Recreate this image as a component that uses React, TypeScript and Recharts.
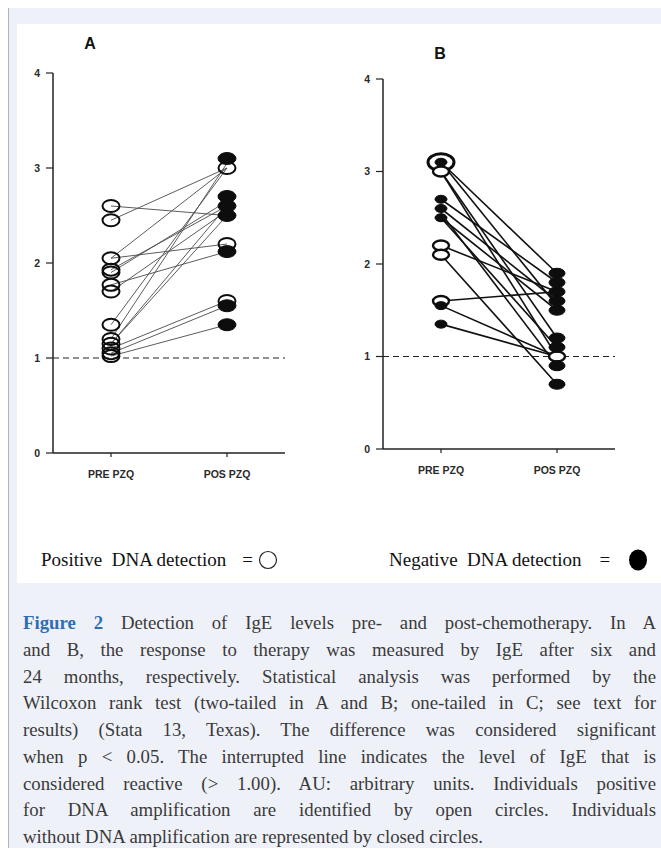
import React from 'react';
import { ScatterChart, Scatter, XAxis, YAxis, ReferenceLine } from 'recharts';

// ---------- shared ----------
const categories = ['PRE PZQ', 'POS PZQ'];
const yTicks = [0, 1, 2, 3, 4];
const reactiveCutoff = 1;

// ---------- Panel A (six months) ----------
const aLinePre = [2.6, 2.45, 2.05, 2.05, 1.93, 1.9, 1.77, 1.7, 1.35, 1.2, 1.15, 1.15, 1.1, 1.05, 1.02];
const aLinePost = [2.5, 3.0, 2.2, 3.0, 2.6, 2.65, 2.12, 2.55, 3.0, 3.05, 2.6, 2.5, 1.6, 1.55, 1.35];
const aPreOpen = [2.6, 2.45, 2.05, 1.93, 1.9, 1.77, 1.7, 1.35, 1.2, 1.15, 1.1, 1.05, 1.02];
const aPreFilled: number[] = [];
const aPostOpen = [3.0, 2.2, 1.6];
const aPostFilled = [3.1, 2.7, 2.6, 2.5, 2.12, 1.55, 1.35];

// ---------- Panel B (24 months) ----------
const bLinePre = [3.1, 3.1, 3.0, 3.0, 2.7, 2.6, 2.5, 2.5, 2.55, 2.2, 2.1, 1.6, 1.55, 1.35];
const bLinePost = [1.9, 1.55, 1.2, 1.0, 1.8, 1.6, 1.5, 1.1, 0.9, 1.7, 0.7, 1.7, 1.0, 1.0];
const bPreRing = [3.1];
const bPreOpen = [3.0, 2.2, 2.1, 1.6];
const bPreFilled = [3.1, 2.7, 2.6, 2.5, 1.55, 1.35];
const bPostOpen = [1.0];
const bPostFilled = [1.9, 1.8, 1.7, 1.6, 1.5, 1.2, 1.1, 0.9, 0.7];

// ---------- text ----------
const legendPositive = 'Positive\u00a0 DNA detection';
const legendNegative = 'Negative\u00a0 DNA detection';
const captionLead = 'Figure 2';
const captionLines = [
  ' Detection of IgE levels pre- and post-chemotherapy. In A',
  'and B, the response to therapy was measured by IgE after six and',
  '24 months, respectively. Statistical analysis was performed by the',
  'Wilcoxon rank test (two-tailed in A and B; one-tailed in C; see text for',
  'results) (Stata 13, Texas). The difference was considered significant',
  'when p < 0.05. The interrupted line indicates the level of IgE that is',
  'considered reactive (> 1.00). AU: arbitrary units. Individuals positive',
  'for DNA amplification are identified by open circles. Individuals',
  'without DNA amplification are represented by closed circles.',
];

const pts = (values: number[], x: number) => values.map((y) => ({ x, y }));

const ellipseShape = (rx: number, ry: number, filled: boolean, sw: number, openFill: string) => (props: any) => {
  const { cx, cy } = props;
  if (cx == null || cy == null) return <g />;
  return (
    <ellipse
      cx={cx}
      cy={cy}
      rx={rx}
      ry={ry}
      fill={filled ? '#0d0d0d' : openFill}
      stroke="#0d0d0d"
      strokeWidth={sw}
    />
  );
};

const emptyShape = () => <g />;

type MarkerSpec = { data: { x: number; y: number }[]; shape: (p: any) => React.ReactElement };

function Panel(props: {
  linePre: number[];
  linePost: number[];
  markers: MarkerSpec[];
  lineColor: string;
  lineWidth: number;
  width: number;
  height: number;
}) {
  const { linePre, linePost, markers, lineColor, lineWidth, width, height } = props;
  const tickStyle = { fontSize: 10.5, fontWeight: 700, fill: '#2a2a2a', fontFamily: '"Liberation Sans", Arial, sans-serif' };
  return (
    <ScatterChart width={width} height={height} margin={{ top: 10, right: 10, bottom: 10, left: 10 }}>
      <XAxis
        type="number"
        dataKey="x"
        domain={[-0.5, 1.5]}
        ticks={[0, 1]}
        tickFormatter={(v: number) => categories[v] ?? ''}
        tick={tickStyle}
        axisLine={{ stroke: '#222', strokeWidth: 1.5 }}
        tickLine={{ stroke: '#222', strokeWidth: 1.2 }}
        tickSize={4}
        tickMargin={14}
        height={30}
        allowDataOverflow
      />
      <YAxis
        type="number"
        dataKey="y"
        domain={[0, 4]}
        ticks={yTicks}
        tick={tickStyle}
        axisLine={{ stroke: '#222', strokeWidth: 1.5 }}
        tickLine={{ stroke: '#222', strokeWidth: 1.2 }}
        tickSize={7}
        tickMargin={6}
        width={30}
        allowDataOverflow
      />
      <ReferenceLine y={reactiveCutoff} stroke="#222" strokeWidth={1.2} strokeDasharray="6 4" />
      {linePre.map((pre, i) => (
        <Scatter
          key={'l' + i}
          data={[{ x: 0, y: pre }, { x: 1, y: linePost[i] }]}
          line={{ stroke: lineColor, strokeWidth: lineWidth }}
          lineType="joint"
          shape={emptyShape}
          isAnimationActive={false}
        />
      ))}
      {markers.map((m, i) => (
        <Scatter key={'m' + i} data={m.data} shape={m.shape} isAnimationActive={false} />
      ))}
    </ScatterChart>
  );
}

export default function App() {
  const aMarkers: MarkerSpec[] = [
    { data: pts(aPreOpen, 0), shape: ellipseShape(8.5, 6, false, 2, 'none') },
    { data: pts(aPreFilled, 0), shape: ellipseShape(9, 6, true, 1, 'none') },
    { data: pts(aPostOpen, 1), shape: ellipseShape(8.5, 6, false, 2, 'none') },
    { data: pts(aPostFilled, 1), shape: ellipseShape(9, 6, true, 1, 'none') },
  ];
  const bMarkers: MarkerSpec[] = [
    { data: pts(bPreRing, 0), shape: ellipseShape(13, 8.5, false, 3, '#fff') },
    { data: pts(bPreOpen, 0), shape: ellipseShape(8, 5, false, 2.4, '#fff') },
    { data: pts(bPreFilled, 0), shape: ellipseShape(6, 4, true, 1, '#fff') },
    { data: pts(bPostOpen, 1), shape: ellipseShape(8, 5, false, 2.4, '#fff') },
    { data: pts(bPostFilled, 1), shape: ellipseShape(8, 5, true, 1, '#fff') },
  ];

  const legendFont = '19px "Liberation Serif", "Times New Roman", serif';

  return (
    <div style={{ position: 'absolute', left: 0, top: 0, width: 661, height: 854, background: '#fff', overflow: 'hidden' }}>
      {/* gray frame */}
      <div
        style={{
          position: 'absolute',
          left: 8,
          top: 8,
          width: 653,
          height: 840,
          background: '#eff1f8',
          borderLeft: '1px solid #b4b4b8',
        }}
      />
      {/* white figure area */}
      <div style={{ position: 'absolute', left: 17, top: 24, width: 644, height: 559, background: '#fff' }} />

      {/* titles */}
      <div style={{ position: 'absolute', left: 80, top: 35, width: 20, textAlign: 'center', font: '700 16px "Liberation Sans", Arial, sans-serif', color: '#111' }}>A</div>
      <div style={{ position: 'absolute', left: 430, top: 45, width: 20, textAlign: 'center', font: '700 16px "Liberation Sans", Arial, sans-serif', color: '#111' }}>B</div>

      {/* panel A */}
      <div style={{ position: 'absolute', left: 13, top: 62.7 }}>
        <Panel
          linePre={aLinePre}
          linePost={aLinePost}
          markers={aMarkers}
          lineColor="#4a4a4a"
          lineWidth={0.9}
          width={282}
          height={430}
        />
      </div>

      {/* panel B */}
      <div style={{ position: 'absolute', left: 343, top: 69 }}>
        <Panel
          linePre={bLinePre}
          linePost={bLinePost}
          markers={bMarkers}
          lineColor="#111"
          lineWidth={1.6}
          width={282}
          height={420}
        />
      </div>

      {/* legend */}
      <div style={{ position: 'absolute', left: 41, top: 549, font: legendFont, color: '#111', whiteSpace: 'nowrap', display: 'flex', alignItems: 'center' }}>
        <span>{legendPositive}</span>
        <span style={{ marginLeft: 16 }}>=</span>
        <svg width={20} height={20} style={{ marginLeft: 5 }}>
          <circle cx={10} cy={10} r={8.5} fill="none" stroke="#222" strokeWidth={1.2} />
        </svg>
      </div>
      <div style={{ position: 'absolute', left: 389, top: 549, font: legendFont, color: '#111', whiteSpace: 'nowrap', display: 'flex', alignItems: 'center' }}>
        <span>{legendNegative}</span>
        <span style={{ marginLeft: 18 }}>=</span>
        <svg width={22} height={22} style={{ marginLeft: 17 }}>
          <ellipse cx={11} cy={11} rx={9} ry={10.5} fill="#000" />
        </svg>
      </div>

      {/* caption */}
      <div
        style={{
          position: 'absolute',
          left: 23,
          top: 610,
          width: 633,
          font: '18.8px "Liberation Serif", "Times New Roman", serif',
          lineHeight: '26.75px',
          color: '#3a3a3a',
        }}
      >
        {captionLines.map((line, i) => (
          <div
            key={i}
            style={{
              textAlign: i === captionLines.length - 1 ? 'left' : 'justify',
              textAlignLast: i === captionLines.length - 1 ? 'left' : 'justify',
              whiteSpace: 'nowrap',
            }}
          >
            {i === 0 && <span style={{ color: '#2f6db5', fontWeight: 700 }}>{captionLead}</span>}
            {line}
          </div>
        ))}
      </div>
    </div>
  );
}
